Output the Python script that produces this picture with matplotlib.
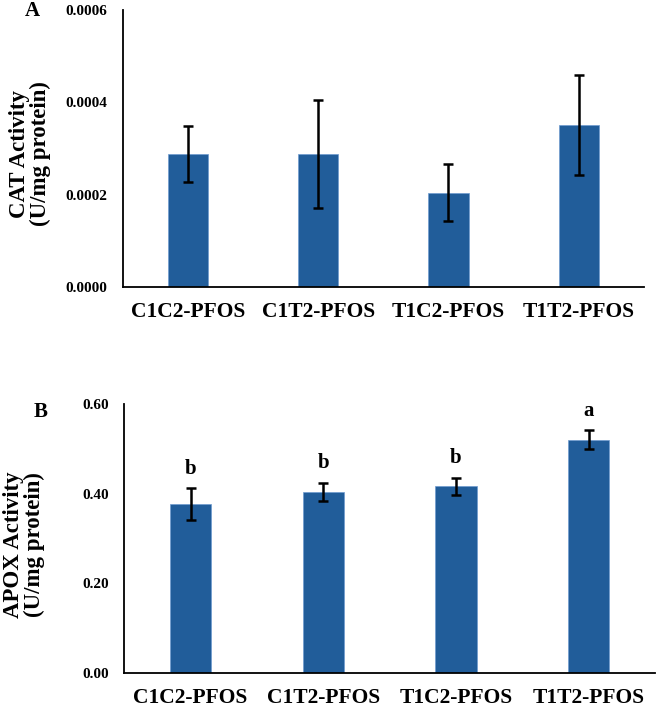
import numpy as np
import matplotlib.pyplot as plt

# data
groups = ['C1C2-PFOS', 'C1T2-PFOS', 'T1C2-PFOS', 'T1T2-PFOS']

cat_mean = [0.000288, 0.000288, 0.000204, 0.000351]
cat_err = [0.000060, 0.000117, 0.000062, 0.000109]

apox_mean = [0.377, 0.404, 0.417, 0.520]
apox_err = [0.035, 0.020, 0.019, 0.021]
apox_letters = ['b', 'b', 'b', 'a']

bar_color = '#215d9a'

plt.rcParams['font.family'] = 'Liberation Serif'
plt.rcParams['font.weight'] = 'bold'

fig = plt.figure(figsize=(6.57, 7.08), dpi=100)
axA = fig.add_axes([0.187, 0.5946, 0.793, 0.3914])
axB = fig.add_axes([0.189, 0.0494, 0.808, 0.38])

x = np.arange(len(groups))


def style(ax, yticks, ylabels):
    for s in ['top', 'right']:
        ax.spines[s].set_visible(False)
    for s in ['left', 'bottom']:
        ax.spines[s].set_linewidth(1.3)
    ax.tick_params(axis='both', length=0)
    ax.tick_params(axis='y', pad=11)
    ax.tick_params(axis='x', pad=11)
    ax.set_xlim(-0.5, len(groups) - 0.5)
    ax.set_xticks(x)
    ax.set_xticklabels(groups, fontweight='bold', fontsize=15.5)
    ax.set_yticks(yticks)
    ax.set_yticklabels(ylabels, fontweight='bold', fontsize=11)


# Panel A
axA.bar(x, cat_mean, width=0.31, color=bar_color, edgecolor='#6f9bd0', linewidth=0.5)
axA.errorbar(x, cat_mean, yerr=cat_err, fmt='none', ecolor='black',
             elinewidth=1.8, capsize=3.5, capthick=1.8)
axA.set_ylim(0, 0.0006)
style(axA, [0, 0.0002, 0.0004, 0.0006], ['0.0000', '0.0002', '0.0004', '0.0006'])
axA.set_ylabel('CAT Activity\n(U/mg protein)', fontsize=16.5, fontweight='bold',
               linespacing=1.0, va='center')
axA.yaxis.set_label_coords(-0.179, 0.48)
fig.text(0.05, 0.984, 'A', fontsize=15, fontweight='bold', ha='center', va='center')

# Panel B
axB.bar(x, apox_mean, width=0.31, color=bar_color, edgecolor='#6f9bd0', linewidth=0.5)
axB.errorbar(x, apox_mean, yerr=apox_err, fmt='none', ecolor='black',
             elinewidth=1.8, capsize=3.5, capthick=1.8)
for xi, m, e, lab in zip(x, apox_mean, apox_err, apox_letters):
    axB.annotate(lab, (xi, m + e), xytext=(0, 7), textcoords='offset points',
                 ha='center', va='bottom', fontsize=15, fontweight='bold')
axB.set_ylim(0, 0.6)
style(axB, [0, 0.2, 0.4, 0.6], ['0.00', '0.20', '0.40', '0.60'])
axB.set_ylabel('APOX Activity\n(U/mg protein)', fontsize=16.5, fontweight='bold',
               linespacing=1.0, va='center')
axB.yaxis.set_label_coords(-0.188, 0.476)
fig.text(0.062, 0.418, 'B', fontsize=15, fontweight='bold', ha='center', va='center')

fig.savefig('out.png', dpi=100)
